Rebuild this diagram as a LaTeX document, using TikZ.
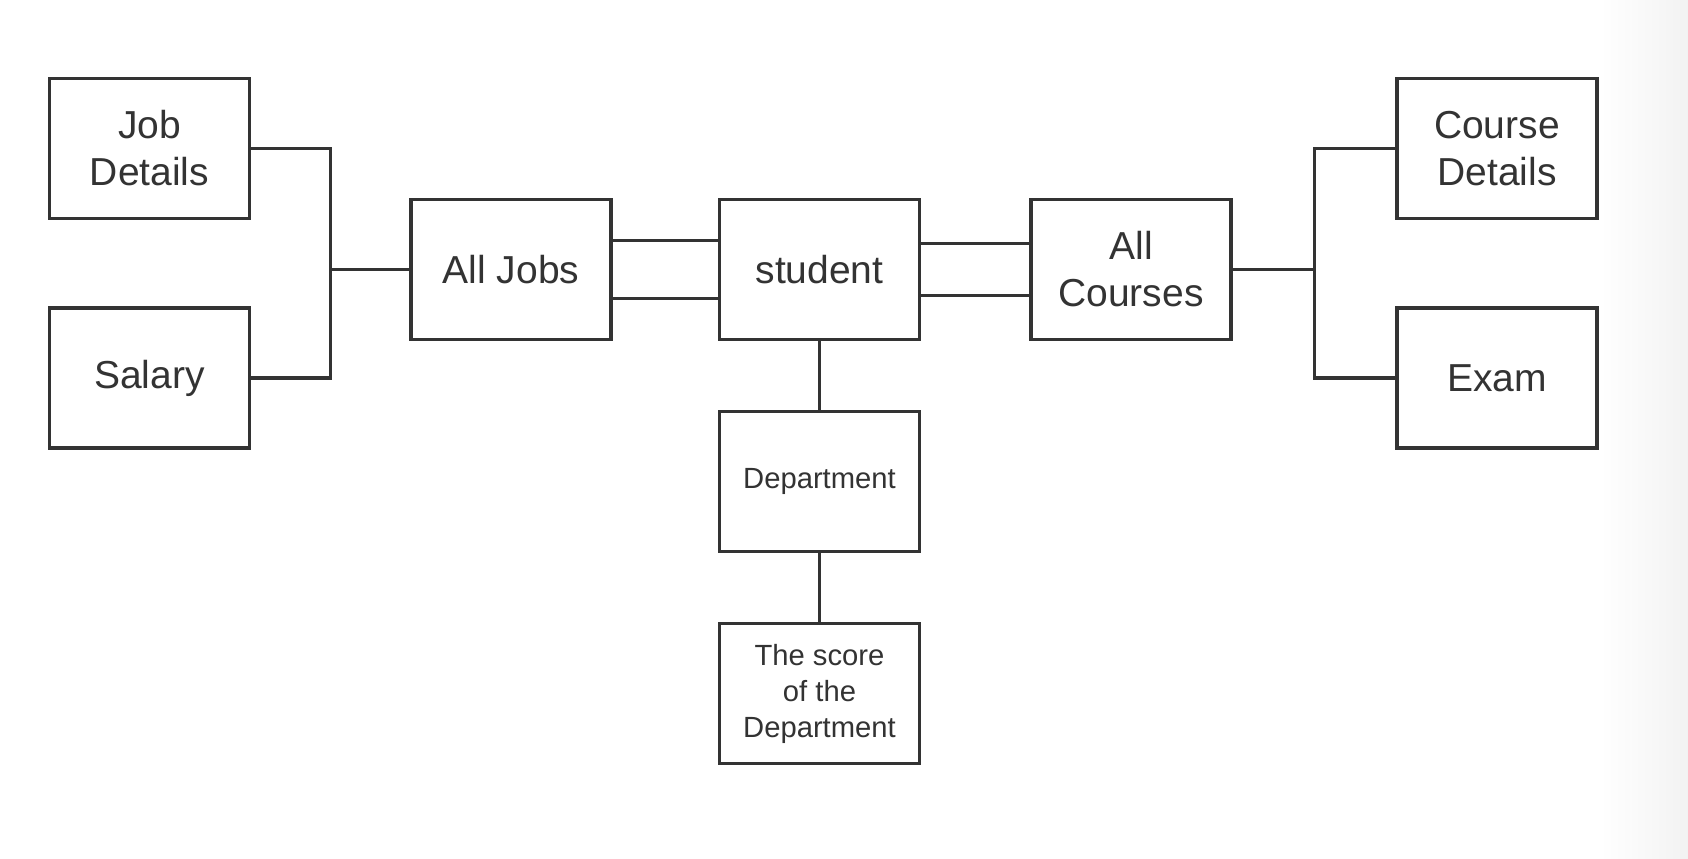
\documentclass[tikz,border=0pt]{standalone}
\usepackage{fontspec}
\setmainfont{Liberation Sans}
\definecolor{ink}{HTML}{333333}
\begin{document}
\begin{tikzpicture}[x=0.5pt,y=-0.5pt,
  box/.style={draw=ink, line width=1.6pt, minimum width=100pt, minimum height=70pt, inner sep=0pt, align=center, text=ink, font=\fontsize{19.5}{23.5}\selectfont},
  smallbox/.style={box, font=\fontsize{14.6}{18}\selectfont},
  link/.style={draw=ink, line width=1.6pt}]
\useasboundingbox (0,0) rectangle (1688,858);
\fill[white] (0,0) rectangle (1688,858);
\shade[left color=white, right color=black!5, draw=none] (1600,0) rectangle (1688,858);

\node[box] (jd) at (149.5,148.5) {Job\\Details};
\node[box] (sal) at (149.5,378) {\raisebox{-1.5pt}{Salary}};
\node[box] (aj) at (511,269.5) {\raisebox{-1pt}{All Jobs}};
\node[box] (st) at (819.5,269.5) {\raisebox{-1pt}{student}};
\node[box] (ac) at (1131,269.5) {All\\Courses};
\node[box] (cd) at (1497,148.5) {Course\\Details};
\node[box] (ex) at (1497,378) {\raisebox{-0.5pt}{Exam}};
\node[smallbox] (dep) at (819.5,481.5) {\raisebox{-1pt}{Department}};
\node[smallbox] (sc) at (819.5,693.5) {The score\\of the\\Department};

\coordinate (jx) at (330.5,269.5);
\coordinate (cx) at (1314.5,269.5);

\draw[link] (jd.east) -| (jx) |- (sal.east);
\draw[link] (jx) -- (aj.west);
\draw[link] ([yshift=14.5pt]aj.east) -- ([yshift=14.5pt]st.west);
\draw[link] ([yshift=-14.5pt]aj.east) -- ([yshift=-14.5pt]st.west);
\draw[link] ([yshift=13pt]st.east) -- ([yshift=13pt]ac.west);
\draw[link] ([yshift=-13pt]st.east) -- ([yshift=-13pt]ac.west);
\draw[link] (ac.east) -- (cx);
\draw[link] (cd.west) -| (cx) |- (ex.west);
\draw[link] (st.south) -- (dep.north);
\draw[link] (dep.south) -- (sc.north);
\end{tikzpicture}
\end{document}
